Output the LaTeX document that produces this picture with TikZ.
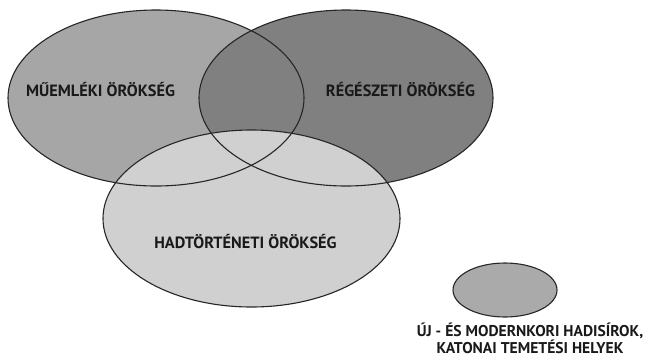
\documentclass[tikz,border=0pt]{standalone}
\usepackage{fontspec}
\setmainfont{PT Sans}
\definecolor{lightgr}{HTML}{A6A6A6}
\definecolor{darkgr}{HTML}{808080}
\definecolor{palegr}{HTML}{D0D0D0}
\definecolor{smallgr}{HTML}{AAAAAA}
\tikzset{
	rim/.style={draw=black!85, line width=1.1pt},
	lbl/.style={font=\bfseries\fontsize{16.3}{18}\selectfont, text=black!90, inner sep=0pt, anchor=base}
}
\begin{document}
\begin{tikzpicture}[x=1pt,y=-1pt]
			\useasboundingbox (0,0) rectangle (650,357);
			\fill [lightgr] (156,98) ellipse [x radius=148, y radius=88];
			\fill [darkgr] (346,98) ellipse [x radius=147, y radius=88];
			\fill [palegr] (251.5,218.5) ellipse [x radius=148.5, y radius=88.5];
			\fill [smallgr] (505,290) ellipse [x radius=52, y radius=27];
			\draw [rim] (156,98) ellipse [x radius=148, y radius=88];
			\draw [rim] (346,98) ellipse [x radius=147, y radius=88];
			\draw [rim] (251.5,218.5) ellipse [x radius=148.5, y radius=88.5];
			\draw [rim] (505,290) ellipse [x radius=52, y radius=27];
			\node [lbl] (mue) at (100.5,96) {MŰEMLÉKI ÖRÖKSÉG};
			\node [lbl] (reg) at (400.5,96) {RÉGÉSZETI ÖRÖKSÉG};
			\node [lbl] (had) at (245.5,248) {HADTÖRTÉNETI ÖRÖKSÉG};
			\node [lbl, font=\bfseries\fontsize{15.6}{14.6}\selectfont, align=center] (uj) at (530,353.5) {ÚJ - ÉS MODERNKORI HADISÍROK,\\KATONAI TEMETÉSI HELYEK};
		\end{tikzpicture}
\end{document}
